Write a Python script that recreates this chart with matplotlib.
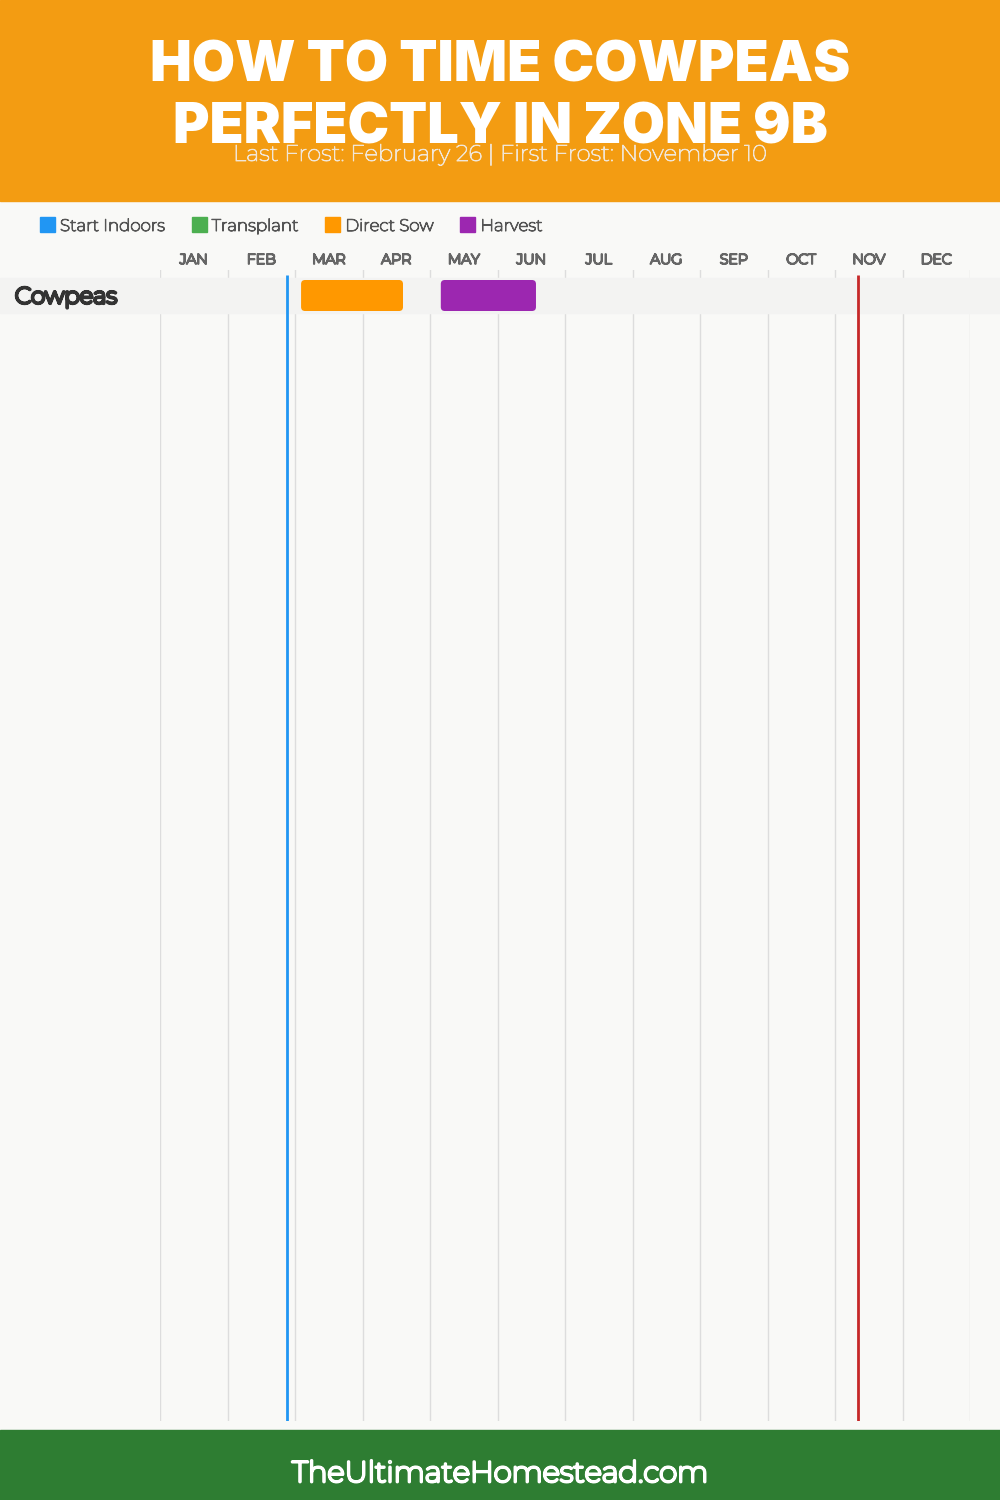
import matplotlib
matplotlib.use("Agg")
import matplotlib.pyplot as plt
from matplotlib.patches import Rectangle, FancyBboxPatch
import matplotlib.patheffects as pe
import matplotlib.transforms as mtransforms

# ---- data ----
months = ["JAN", "FEB", "MAR", "APR", "MAY", "JUN",
          "JUL", "AUG", "SEP", "OCT", "NOV", "DEC"]
crops = ["Cowpeas"]
legend_labels = ["Start Indoors", "Transplant", "Direct Sow", "Harvest"]
legend_colors = ["#2196F3", "#4CAF50", "#FF9800", "#9C27B0"]
# activity spans in month units (0 = Jan 1, 12 = Dec 31)
direct_sow = [(2.09, 3.60)]
harvest = [(4.16, 5.57)]
last_frost = 1.875    # Feb 26
first_frost = 10.335  # Nov 10

title_lines = ["HOW TO TIME COWPEAS", "PERFECTLY IN ZONE 9B"]
subtitle = "Last Frost: February 26 | First Frost: November 10"
footer = "TheUltimateHomestead.com"

W, H = 1000, 1500
BG = "#F9F9F7"
MONT = "Montserrat"

fig = plt.figure(figsize=(W / 100, H / 100), dpi=100, facecolor=BG)
renderer = fig.canvas.get_renderer()


def fy(py):
    return 1 - py / H


def weight(t, lw):
    # installed Montserrat is the thin master; a stroke thickens it
    t.set_path_effects([pe.withStroke(linewidth=lw, foreground=t.get_color())])
    return t


def fit_text(x, y, s, width_px, **kw):
    t = fig.text(x, y, s, **kw)
    w = t.get_window_extent(renderer).width
    t.set_fontsize(t.get_fontsize() * width_px / w)
    return t


# header / footer bands
fig.patches.append(Rectangle((0, fy(201)), 1, 201 / H, transform=fig.transFigure,
                             color="#F39C12", zorder=0))
fig.patches.append(Rectangle((0, 0), 1, 70 / H, transform=fig.transFigure,
                             color="#2E7D32", zorder=0))

fit_text(0.5, fy(82), title_lines[0], 700, ha="center", va="baseline",
         color="white", fontsize=40, fontweight="black", family="Inter")
fit_text(0.5, fy(143), title_lines[1], 655, ha="center", va="baseline",
         color="white", fontsize=40, fontweight="black", family="Inter")
weight(fit_text(0.5, fy(161), subtitle, 536, ha="center", va="baseline",
                color="#F1E6D6", fontsize=15, family=MONT), 0.6)
weight(fit_text(0.5, fy(1482), footer, 416, ha="center", va="baseline",
                color="white", fontsize=21, family=MONT), 2.0)

# legend
lx = 40
for i, (lab, col) in enumerate(zip(legend_labels, legend_colors)):
    fig.patches.append(Rectangle((lx / W, fy(232)), 15 / W, 15 / H,
                                 transform=fig.transFigure, color=col))
    t = fig.text((lx + 20) / W, fy(231), lab, ha="left", va="baseline",
                 fontsize=12.2, color="#555555", family=MONT)
    if i == 0:
        fs = t.get_fontsize() * 105 / t.get_window_extent(renderer).width
    t.set_fontsize(fs)
    weight(t, 0.8)
    lx += 20 + t.get_window_extent(renderer).width + 27

# timeline axes
ax_top, ax_bot = 270, 1421
row_px = 35
band_top = 278
ax = fig.add_axes([160 / W, fy(ax_bot), 810 / W, (ax_bot - ax_top) / H])
ax.set_facecolor("none")
y_top = -0.5 - (band_top - ax_top) / row_px
y_bot = -0.5 + (ax_bot - band_top) / row_px
ax.set_xlim(0, 12)
ax.set_ylim(y_bot, y_top)
for s in ax.spines.values():
    s.set_visible(False)
ax.set_yticks([])
ax.xaxis.tick_top()
ax.set_xticks([i + 0.5 for i in range(12)])
ax.set_xticklabels(months, fontsize=10.2, color="#666666", family=MONT)
for lbl in ax.get_xticklabels():
    weight(lbl, 1.4)
ax.tick_params(axis="x", length=0, pad=2.2)

for i in range(13):
    ax.axvline(i, color="#DDDDDD", lw=1, zorder=1)

band_tr = mtransforms.blended_transform_factory(fig.transFigure, ax.transData)
crop_tr = band_tr + mtransforms.ScaledTranslation(0, -1.5 / 100, fig.dpi_scale_trans)
for r, crop in enumerate(crops):
    ax.add_patch(Rectangle((0, r - 0.5), 1, 1, transform=band_tr,
                           color="#F3F3F2", zorder=2, clip_on=False))
    t = fig.text(15 / W, r, crop, transform=crop_tr, fontsize=16,
                 color="#333333", va="center", ha="left", family=MONT)
    t.set_fontsize(16 * 102 / t.get_window_extent(renderer).width)
    weight(t, 2.3)

x_per_px = 12 / 810
y_per_px = 1 / row_px
bar_h = 31 / row_px


def draw_spans(spans, color):
    for r, (a, b) in enumerate(spans):
        ax.add_patch(FancyBboxPatch((a, r - bar_h / 2), b - a, bar_h,
                                    boxstyle=f"round,pad=0,rounding_size={4 * x_per_px}",
                                    mutation_aspect=y_per_px / x_per_px,
                                    fc=color, ec="none", zorder=4))


draw_spans(direct_sow, legend_colors[2])
draw_spans(harvest, legend_colors[3])

line_top = -0.5 - 3 / row_px
ax.vlines(last_frost, y_bot, line_top, color="#2196F3", lw=2, zorder=3)
ax.vlines(first_frost, y_bot, line_top, color="#C62828", lw=2, zorder=3)

fig.savefig("out.png", dpi=100, facecolor=BG)
